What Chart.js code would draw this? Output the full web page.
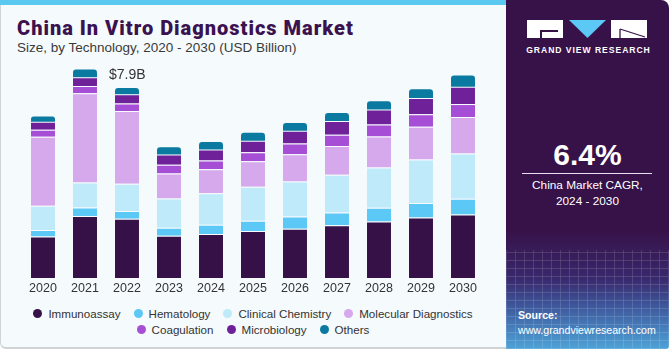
<!DOCTYPE html>
<html>
<head>
<meta charset="utf-8">
<script src="https://cdn.jsdelivr.net/npm/chart.js@4/dist/chart.umd.min.js"></script>
<style>
  html, body { margin:0; padding:0; width:670px; height:350px; overflow:hidden; background:#ffffff; font-family:"Liberation Sans", Arial, sans-serif; }
  #card { position:absolute; left:0; top:0; width:506px; height:349px; background:#F5FAFD; border-left:1px solid #d0d4d8; border-bottom:2px solid #cfd3d6; border-bottom-left-radius:6px; box-sizing:border-box; }
  #stripe { position:absolute; left:0; top:0; width:506px; height:5px; background:#5BC8F0; }
  #title { position:absolute; left:17px; top:16px; font-family:"Roboto","Lato",sans-serif; font-weight:900; font-size:20px; color:#3B1250; white-space:nowrap; letter-spacing:1px; }
  #subtitle { position:absolute; left:17px; top:40px; font-size:13.5px; color:#3a3a3a; white-space:nowrap; }
  #chartwrap { position:absolute; left:0; top:0; width:506px; height:300px; }
  #legend { position:absolute; left:0; top:305px; width:506px; font-size:11.6px; color:#333; }
  .lrow { display:flex; justify-content:center; height:16px; align-items:center; }
  .litem { display:flex; align-items:center; margin:0 6.5px; white-space:nowrap; }
  .dot { width:9px; height:9px; border-radius:50%; margin-right:6px; }
  #panel { position:absolute; left:506px; top:0; width:163px; height:349px; border-top-right-radius:8px; border-bottom-right-radius:3px;
    background: linear-gradient(to bottom, #371249 0%, #371249 66%, #3a2a6e 80%, #3f5a9e 88%, #4fa3d8 100%); overflow:hidden; }
  #grid { position:absolute; left:0; top:250px; width:163px; height:99px; opacity:0.22;
    background-image: repeating-linear-gradient(90deg, rgba(255,255,255,0.6) 0 1px, transparent 1px 9px), repeating-linear-gradient(0deg, rgba(255,255,255,0.6) 0 1px, transparent 1px 8px); }
  .logo-box { position:absolute; background:#ffffff; }
  #gvrtext { position:absolute; left:0; width:163px; top:45px; text-align:center; color:#fff; font-weight:bold; font-size:8.6px; letter-spacing:0.95px; padding-left:2px; box-sizing:border-box; }
  #cagr { position:absolute; left:0; width:163px; top:138px; text-align:center; color:#fff; font-weight:bold; font-size:30px; }
  #line { position:absolute; left:16px; width:130px; top:173px; height:1px; background:#e8e0ee; }
  #cagrlabel { position:absolute; left:0; width:163px; top:177px; text-align:center; color:#fff; font-size:11.8px; line-height:16px; }
  #source { position:absolute; left:12px; top:308px; color:#fff; font-size:10.6px; line-height:15px; }
</style>
</head>
<body>
<div id="card"></div>
<div id="stripe"></div>
<div id="title">China In Vitro Diagnostics Market</div>
<div id="subtitle">Size, by Technology, 2020 - 2030 (USD Billion)</div>
<div id="chartwrap"><canvas id="c" width="506" height="300"></canvas></div>
<div id="legend"></div>
<div id="panel">
  <div id="grid"></div>
  <div class="logo-box" style="left:21px; top:20px; width:36px; height:18px;"></div>
  <div style="position:absolute; left:34px; top:30px; width:18px; height:1.5px; background:#371249;"></div>
  <div style="position:absolute; left:34px; top:30px; width:1.5px; height:8px; background:#371249;"></div>
  <svg style="position:absolute; left:63px; top:20px;" width="38" height="19"><polygon points="0,0 37,0 18.5,18" fill="#5BC8F5"/></svg>
  <div class="logo-box" style="left:105px; top:20px; width:36px; height:18px;"></div>
  <svg style="position:absolute; left:105px; top:20px;" width="36" height="18"><line x1="9" y1="9" x2="34" y2="17" stroke="#371249" stroke-width="1.3"/><line x1="9" y1="9" x2="9" y2="18" stroke="#371249" stroke-width="1.3"/></svg>
  <div id="gvrtext">GRAND VIEW RESEARCH</div>
  <div id="cagr">6.4%</div>
  <div id="line"></div>
  <div id="cagrlabel">China Market CAGR,<br>2024 - 2030</div>
  <div id="source"><b>Source:</b><br>www.grandviewresearch.com</div>
</div>
<script>
const years = ["2020","2021","2022","2023","2024","2025","2026","2027","2028","2029","2030"];
const seriesNames = ["Immunoassay","Hematology","Clinical Chemistry","Molecular Diagnostics","Coagulation","Microbiology","Others"];
const seriesColors = ["#361148","#5BC8F5","#BEEAF9","#D6A8EC","#A64FD6","#6E2199","#0A7AA0"];
const immunoassay  = [1.57, 2.35, 2.24, 1.60, 1.67, 1.78, 1.87, 2.00, 2.14, 2.29, 2.41];
const hematology   = [0.25, 0.32, 0.30, 0.30, 0.35, 0.39, 0.46, 0.48, 0.52, 0.55, 0.59];
const clinicalChem = [0.92, 0.95, 1.03, 1.11, 1.19, 1.29, 1.33, 1.43, 1.53, 1.65, 1.72];
const molecular    = [2.61, 3.38, 2.76, 0.95, 0.91, 0.96, 1.03, 1.09, 1.17, 1.24, 1.38];
const coagulation  = [0.27, 0.27, 0.28, 0.33, 0.33, 0.34, 0.41, 0.43, 0.46, 0.47, 0.49];
const microbiology = [0.30, 0.34, 0.35, 0.39, 0.42, 0.44, 0.48, 0.52, 0.56, 0.62, 0.66];
const others       = [0.20, 0.29, 0.24, 0.27, 0.28, 0.30, 0.29, 0.30, 0.32, 0.33, 0.42];
const seriesValues = [immunoassay, hematology, clinicalChem, molecular, coagulation, microbiology, others];
const highlightLabel = "$7.9B";
const highlightIndex = 1;

const datasets = seriesNames.map((name, i) => ({
  label: name,
  data: seriesValues[i],
  backgroundColor: seriesColors[i],
  borderColor: 'rgba(255,255,255,0.35)',
  borderWidth: i === seriesNames.length - 1 ? 0 : {top: 1, bottom: 0, left: 0, right: 0},
  borderSkipped: false,
  borderRadius: i === seriesNames.length - 1 ? {topLeft: 3, topRight: 3, bottomLeft: 0, bottomRight: 0} : 0,
  categoryPercentage: 1.0,
  barPercentage: 0.571
}));

const labelPlugin = {
  id: 'highlightLabel',
  afterDatasetsDraw(chart) {
    const meta = chart.getDatasetMeta(chart.data.datasets.length - 1);
    const bar = meta.data[highlightIndex];
    if (!bar) return;
    const ctx = chart.ctx;
    ctx.save();
    ctx.font = '14px "Liberation Sans", Arial, sans-serif';
    ctx.fillStyle = '#333333';
    ctx.textAlign = 'left';
    ctx.textBaseline = 'middle';
    ctx.fillText(highlightLabel, bar.x + bar.width / 2 + 12, bar.y + 6);
    ctx.restore();
  }
};

new Chart(document.getElementById('c'), {
  type: 'bar',
  data: { labels: years, datasets },
  options: {
    responsive: false,
    animation: false,
    layout: { padding: { left: 22, right: 22, top: 51, bottom: 1 } },
    plugins: { legend: { display: false }, tooltip: { enabled: false } },
    scales: {
      x: { stacked: true, grid: { display: false, drawTicks: false }, border: { display: false },
           ticks: { color: '#333333', padding: 3, font: { size: 12.5, family: '"Liberation Sans", Arial, sans-serif' } } },
      y: { stacked: true, display: false, min: 0, max: 8.6 }
    }
  },
  plugins: [labelPlugin]
});

// legend built from the same series arrays
const legend = document.getElementById('legend');
const rows = [[0,1,2,3],[4,5,6]];
rows.forEach(r => {
  const row = document.createElement('div');
  row.className = 'lrow';
  r.forEach(i => {
    const it = document.createElement('div');
    it.className = 'litem';
    it.innerHTML = '<span class="dot" style="background:' + seriesColors[i] + '"></span>' + seriesNames[i];
    row.appendChild(it);
  });
  legend.appendChild(row);
});
</script>
</body>
</html>
